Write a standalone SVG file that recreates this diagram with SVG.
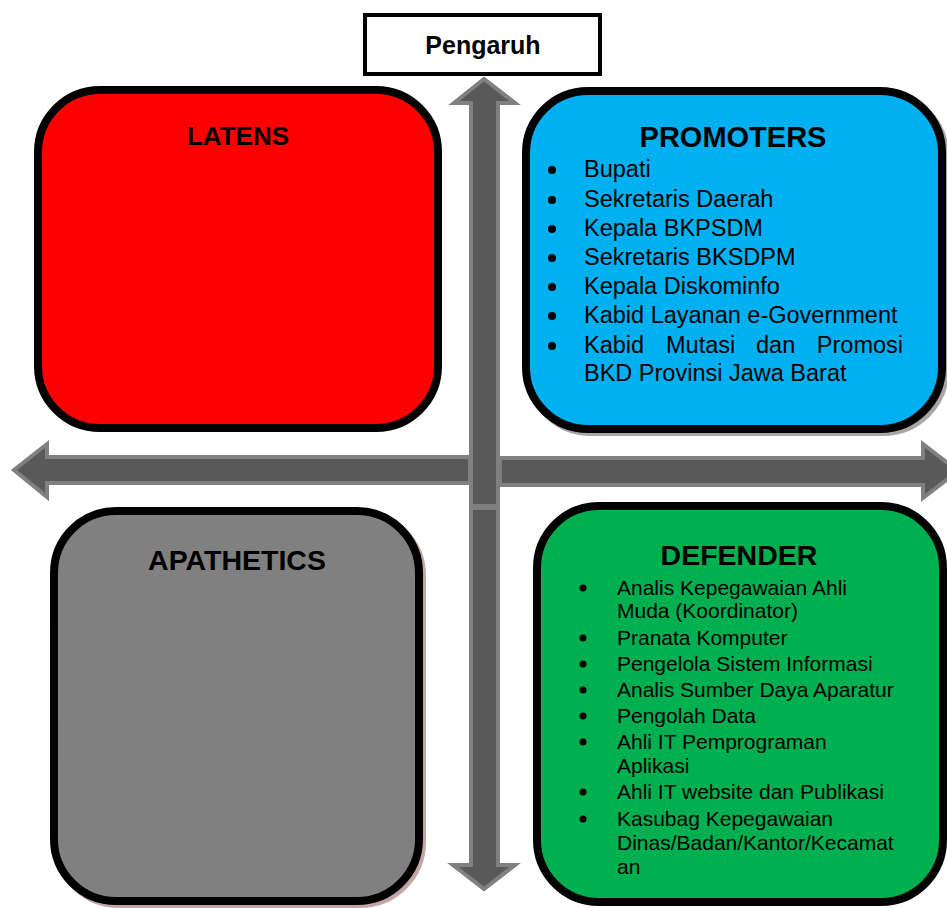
<svg xmlns="http://www.w3.org/2000/svg" width="947" height="908" viewBox="0 0 947 908">
<style>
.box{stroke:#000;stroke-width:8}
.t{font-family:"Liberation Sans",Arial,sans-serif;fill:#000}
.h{font-weight:bold;text-anchor:middle}
.arr{fill:#595959;stroke:#808080;stroke-width:4;stroke-linejoin:miter}
.p{font-size:23.5px}
.d{font-size:21px}
.bul{fill:#000}
</style>
<rect width="947" height="908" fill="#fff"/>
<g id="connectors">
<polygon class="arr" points="470,457 47,457 47,444 14,470 47,497 47,483 470,483"/>
<polygon class="arr" points="500,458 923,458 923,444 958,471 923,498 923,485 500,485"/>
<polygon class="arr" points="471,506 471,103 454,103 484,79 515,103 498,103 498,506"/>
<polygon class="arr" points="471,508 498,508 498,865 515,865 484,889 453,865 471,865"/>
</g>
<g id="pengaruh">
<rect x="365" y="15" width="235" height="59" fill="#fff" stroke="#000" stroke-width="4"/>
<text class="t h" x="483" y="54" font-size="25">Pengaruh</text>
</g>
<g id="latens">
<rect class="box" x="38" y="90" width="400" height="338" rx="62" fill="#FF0000"/>
<text class="t h" x="238" y="145" font-size="26">LATENS</text>
</g>
<g id="promoters">
<rect x="529" y="94" width="416" height="338" rx="62" fill="none" stroke="#A6A6A6" stroke-width="8"/>
<rect class="box" x="526" y="91" width="416" height="338" rx="62" fill="#00B0F0"/>
<text class="t h" x="733" y="147" font-size="29">PROMOTERS</text>
<g class="bul">
<circle cx="552" cy="170" r="4"/>
<circle cx="552" cy="200" r="4"/>
<circle cx="552" cy="229" r="4"/>
<circle cx="552" cy="258" r="4"/>
<circle cx="552" cy="287" r="4"/>
<circle cx="552" cy="316" r="4"/>
<circle cx="552" cy="346" r="4"/>
</g>
<g class="t p">
<text x="584" y="177">Bupati</text>
<text x="584" y="207">Sekretaris Daerah</text>
<text x="584" y="236">Kepala BKPSDM</text>
<text x="584" y="265">Sekretaris BKSDPM</text>
<text x="584" y="294">Kepala Diskominfo</text>
<text x="584" y="323">Kabid Layanan e-Government</text>
<text x="584" y="353">Kabid</text><text x="666" y="353">Mutasi</text><text x="756" y="353">dan</text><text x="903" y="353" text-anchor="end">Promosi</text>
<text x="584" y="381">BKD Provinsi Jawa Barat</text>
</g>
</g>
<g id="apathetics">
<rect x="57" y="514" width="365" height="390" rx="62" fill="none" stroke="#C4A4A4" stroke-width="8"/>
<rect class="box" x="54" y="511" width="365" height="390" rx="62" fill="#808080"/>
<text class="t h" x="237" y="570" font-size="28.5">APATHETICS</text>
</g>
<g id="defender">
<rect class="box" x="537" y="506" width="406" height="396" rx="62" fill="#00B050"/>
<text class="t h" x="739" y="565" font-size="28.5">DEFENDER</text>
<g class="bul">
<circle cx="583" cy="588" r="3.5"/>
<circle cx="583" cy="638" r="3.5"/>
<circle cx="583" cy="664" r="3.5"/>
<circle cx="583" cy="690" r="3.5"/>
<circle cx="583" cy="716" r="3.5"/>
<circle cx="583" cy="742" r="3.5"/>
<circle cx="583" cy="792" r="3.5"/>
<circle cx="583" cy="819" r="3.5"/>
</g>
<g class="t d">
<text x="617" y="595">Analis Kepegawaian Ahli</text>
<text x="617" y="618">Muda (Koordinator)</text>
<text x="617" y="645">Pranata Komputer</text>
<text x="617" y="671">Pengelola Sistem Informasi</text>
<text x="617" y="697">Analis Sumber Daya Aparatur</text>
<text x="617" y="723">Pengolah Data</text>
<text x="617" y="749">Ahli IT Pemprograman</text>
<text x="617" y="773">Aplikasi</text>
<text x="617" y="799">Ahli IT website dan Publikasi</text>
<text x="617" y="826">Kasubag Kepegawaian</text>
<text x="617" y="850">Dinas/Badan/Kantor/Kecamat</text>
<text x="617" y="874">an</text>
</g>
</g>
</svg>
